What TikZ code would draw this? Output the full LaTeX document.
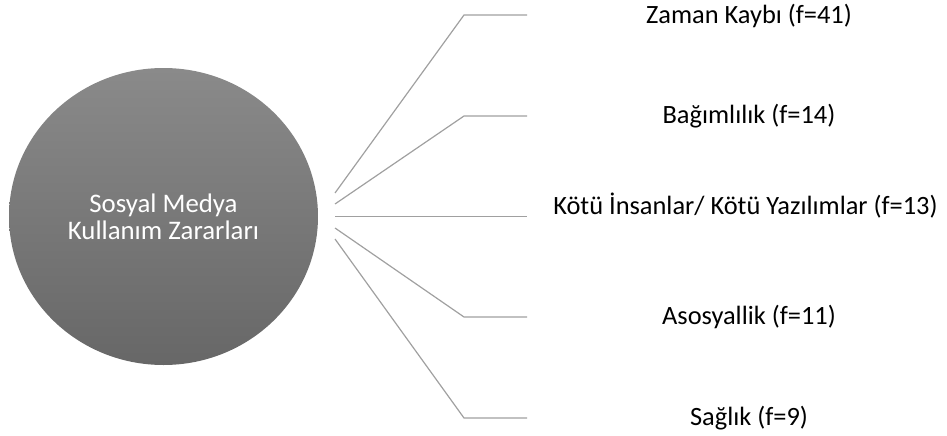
\documentclass[tikz,border=0pt]{standalone}
\usepackage{fontspec}
\setmainfont{Carlito}
\usetikzlibrary{shapes.geometric}
\definecolor{topgray}{HTML}{8A8A8A}
\definecolor{botgray}{HTML}{676767}
\definecolor{linegray}{HTML}{A0A0A0}
\begin{document}
\begin{tikzpicture}[x=1pt,y=-1pt,
  conn/.style={draw=linegray, line width=1.2pt},
  lbl/.style={font=\fontsize{26.4}{28}\selectfont, text=black, anchor=base, inner sep=0pt},
  hub/.style={ellipse, minimum width=309pt, minimum height=297pt, inner sep=0pt,
    top color=topgray, bottom color=botgray, draw=none, text=white, align=center,
    font=\fontsize{26.8}{27}\selectfont}]
\useasboundingbox (0,0) rectangle (947,436);
\node[hub] (c) at (163.5,216.5) {Sosyal Medya\\Kullanım Zararları};
% connector points
\coordinate (s1) at (335,193);
\coordinate (s2) at (335,204);
\coordinate (s3) at (335,216.5);
\coordinate (s4) at (335,228);
\coordinate (s5) at (335,239);
\coordinate (e1) at (464,15);
\coordinate (e2) at (464,116);
\coordinate (e4) at (464,317);
\coordinate (e5) at (464,418);
\coordinate (t1) at (527,15);
\coordinate (t2) at (527,116);
\coordinate (t3) at (527,216.5);
\coordinate (t4) at (527,317);
\coordinate (t5) at (527,418);
\draw[conn] (s1) -- (e1) -- (t1);
\draw[conn] (s2) -- (e2) -- (t2);
\draw[conn] (s3) -- (t3);
\draw[conn] (s4) -- (e4) -- (t4);
\draw[conn] (s5) -- (e5) -- (t5);
% labels
\node[lbl] (l1) at (749,23.5) {Zaman Kaybı (f=41)};
\node[lbl] (l2) at (749,123) {Bağımlılık (f=14)};
\node[lbl] (l3) at (745.5,214) {Kötü İnsanlar/ Kötü Yazılımlar (f=13)};
\node[lbl] (l4) at (749,324) {Asosyallik (f=11)};
\node[lbl] (l5) at (749,425) {Sağlık (f=9)};
\end{tikzpicture}
\end{document}
